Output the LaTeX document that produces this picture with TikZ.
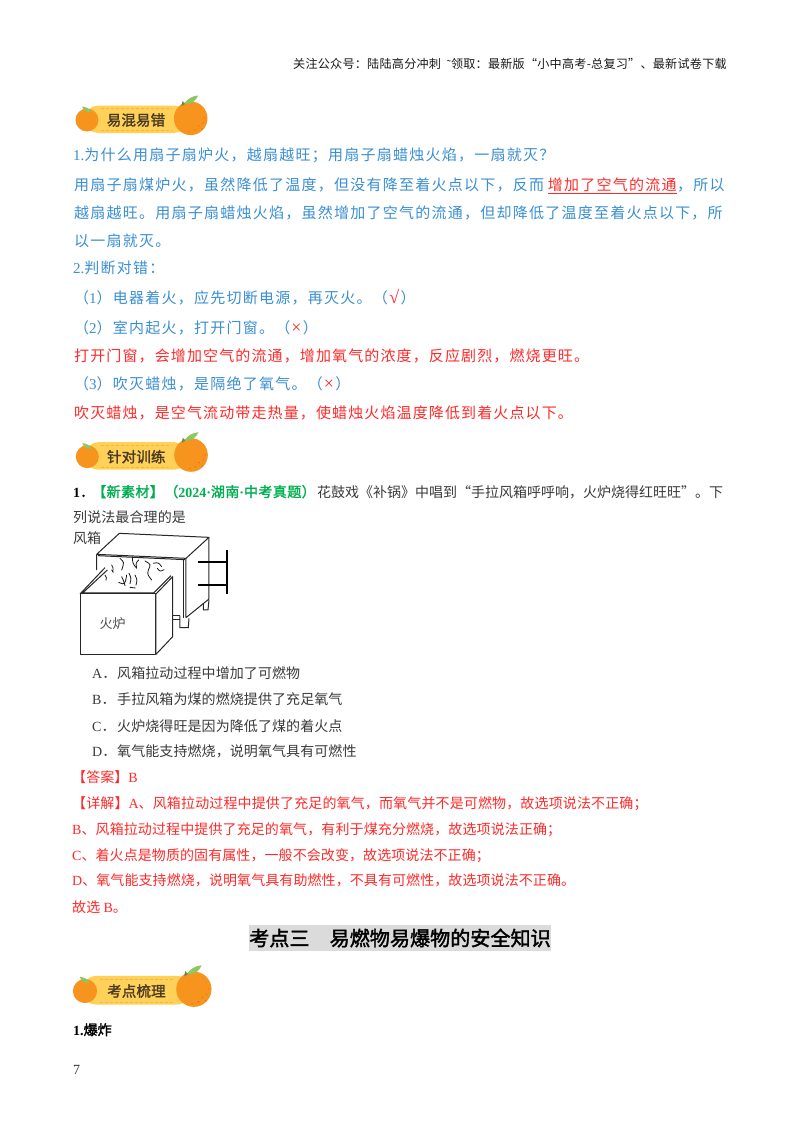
\documentclass[tikz,border=0pt]{standalone}
\usepackage{fontspec}
\setmainfont{Liberation Serif}
\newfontfamily\cjk{Noto Sans CJK SC}
\newfontfamily\cjkb[FakeBold=1.8]{Noto Sans CJK SC}
\newfontfamily\lat{Liberation Serif}
\newfontfamily\latb{Liberation Serif Bold}
\definecolor{tblue}{HTML}{3A8FD2}
\definecolor{tred}{HTML}{FF2A2A}
\definecolor{tgreen}{HTML}{00B050}
\definecolor{tblack}{HTML}{3A3A3A}
\definecolor{pill}{HTML}{FFD159}
\definecolor{pilld}{HTML}{F7B733}
\definecolor{orng}{HTML}{F7941E}
\definecolor{orngd}{HTML}{E8601C}
\definecolor{leaf}{HTML}{8CC665}
\definecolor{btext}{HTML}{4A3B22}
\newcommand\fsz[1]{\fontsize{#1}{#1}\selectfont}
\newcommand\ls[1]{\addfontfeature{LetterSpace=#1}}
% name, x, y, style, letterspace, text
\newcommand\T[6]{\node[tl,#4] (#1) at (#2,#3) {\ls{#5}#6};}
\newcommand\bannerart[5]{%
\begin{scope}[shift={(#2,#3)},scale=#4]
\fill[pill] (-2,-14.5) [rounded corners=13pt] -- (100,-14.5) -- (100,13) -- (-2,13) -- cycle;
\draw[pilld,densely dashed,line width=.5pt] (14,-11.5) -- (85,-11.5) (14,10.5) -- (85,10.5);
\fill[orng] (0,0) circle (11.5);
\fill[leaf] (4.5,-8) .. controls (2,-12) and (-1,-13) .. (-5,-13.5) .. controls (-4,-10) and (0,-7) .. (4.5,-8) -- cycle;
\fill[orng] (103.7,-1.7) circle (16.8);
\fill[leaf] (97,-16) .. controls (100,-21) and (105,-24) .. (111,-24.5) .. controls (110,-20) and (104,-15) .. (97,-16) -- cycle;
\fill[leaf!70!black] (94.5,-14) -- (95.5,-19) -- (98,-16) -- cycle;
\foreach \dx/\dy in {112/6,116/3,108/10,115/9,102/12,118/-2}{\fill[orngd] (\dx,\dy) circle (.6);}
\node[inner sep=0,text=btext,font=\fsz{14.5}\cjkb] (#1) at (49,0) {\ls{1}#5};
\end{scope}}
\begin{document}
\begin{tikzpicture}[x=1pt,y=-1pt,
  tl/.style={anchor=base west,inner sep=0pt},
  blue15/.style={text=tblue,font=\fsz{15}\cjk},
  red15/.style={text=tred,font=\fsz{15}\cjk},
  mark18/.style={text=tred,font=\fsz{18}\lat},
  blk14/.style={text=tblack,font=\fsz{14}\cjk},
  red14/.style={text=tred,font=\fsz{14}\cjk},
  bold14/.style={text=black,font=\fsz{14}\cjkb},
  grn14/.style={text=tgreen,font=\fsz{14}\cjkb},
  fig/.style={line width=1pt,black!85},
  squig/.style={line width=.8pt,black!90,line cap=round}]
\useasboundingbox (0,0) rectangle (800,1132);
\fill[white] (0,0) rectangle (800,1132);

\T{head}{293}{68}{text=black!90,font=\fsz{12.1}\cjk}{2}{关注公众号：陆陆高分冲刺 \ {\lat ˜}领取：最新版“小中高考-总复习”、最新试卷下载}

\bannerart{b1}{87}{120}{1}{易混易错}

\T{l1}{73}{160}{blue15}{8.3}{{\lat 1.}为什么用扇子扇炉火，越扇越旺；用扇子扇蜡烛火焰，一扇就灭？}
\T{l2a}{74}{190}{blue15}{8.3}{用扇子扇煤炉火，虽然降低了温度，但没有降至着火点以下，反而}
\node[tl,red15] (l2b) at ([xshift=3.5pt]l2a.base east) {\ls{8.3}增加了空气的流通};
\node[tl,blue15] (l2c) at (l2b.base east) {\ls{8.3}，所以};
\draw[tred,line width=1pt] ([yshift=-3pt]l2b.base west) -- ([yshift=-3pt]l2b.base east);
\T{l3}{74}{218}{blue15}{8.3}{越扇越旺。用扇子扇蜡烛火焰，虽然增加了空气的流通，但却降低了温度至着火点以下，所}
\T{l4}{74}{246}{blue15}{8.3}{以一扇就灭。}
\T{l5}{73}{273}{blue15}{8.3}{{\lat 2.}判断对错：}
\T{l6a}{74}{303}{blue15}{8.3}{（{\lat 1}）电器着火，应先切断电源，再灭火。（}
\node[tl,mark18] (l6b) at ([xshift=1pt]l6a.base east) {√};
\node[tl,blue15] (l6c) at ([xshift=1pt]l6b.base east) {）};
\T{l7a}{74}{333}{blue15}{8.3}{（{\lat 2}）室内起火，打开门窗。（}
\node[tl,mark18] (l7b) at ([xshift=.5pt]l7a.base east) {×};
\node[tl,blue15] (l7c) at ([xshift=1pt]l7b.base east) {）};
\T{l8}{74}{361}{red15}{7.5}{打开门窗，会增加空气的流通，增加氧气的浓度，反应剧烈，燃烧更旺。}
\T{l9a}{74}{389}{blue15}{8.3}{（{\lat 3}）吹灭蜡烛，是隔绝了氧气。（}
\node[tl,mark18] (l9b) at ([xshift=.5pt]l9a.base east) {×};
\node[tl,blue15] (l9c) at ([xshift=1pt]l9b.base east) {）};
\T{l10}{74}{418}{red15}{7.5}{吹灭蜡烛，是空气流动带走热量，使蜡烛火焰温度降低到着火点以下。}

\bannerart{b2}{87.3}{456.7}{1}{针对训练}

\T{q1a}{73}{497}{bold14}{0}{{\latb 1}．}
\T{q1b}{92}{497}{grn14}{3}{【新素材】（{\latb 2024·}湖南{\latb ·}中考真题）}
\T{q1c}{317}{497}{blk14}{0}{花鼓戏《补锅》中唱到“手拉风箱呼呼响，火炉烧得红旺旺”。下}
\T{q2}{73}{522}{blk14}{0.7}{列说法最合理的是}
\T{fx}{73}{543}{blk14}{0}{风箱}

% figure: coordinates of a 3x view of the drawing
\begin{scope}[shift={(70,525)},x=.3333pt,y=-.3333pt]
% bellows box
\draw[fig,fill=white,line join=round] (148,25) -- (417,37) -- (348,100) -- (80,88) -- cycle;
\draw[fig] (80,88) -- (80,135) (84,92) -- (345,104);
\draw[fig] (348,100) -- (348,278) (417,37) -- (417,222) -- (348,278);
\draw[fig] (341,103) -- (341,278);
% feet
\draw[fig] (308,272) -- (330,272) (308,285) -- (330,285);
\draw[fig] (330,272) -- (330,308) -- (355,308) -- (357,280);
\draw[fig] (400,235) -- (400,255) -- (414,255) -- (417,225);
% handles
\draw[line width=2pt,black] (384,110) -- (470,110) (384,179) -- (470,179);
\draw[line width=2.2pt,black] (471,75) -- (471,207);
% shreds
\draw[squig] (125,120) .. controls (130,128) .. (128,140);
\draw[squig] (150,100) .. controls (163,112) .. (155,135);
\draw[squig] (187,95) .. controls (188,115) .. (200,130);
\draw[squig] (206,105) .. controls (197,115) .. (200,128);
\draw[squig] (225,108) .. controls (243,118) .. (235,135) .. controls (232,148) .. (245,165);
\draw[squig] (250,115) .. controls (265,112) .. (275,125);
\draw[squig] (262,130) .. controls (270,140) .. (282,134);
\draw[squig] (105,150) .. controls (110,158) .. (108,166);
\draw[squig] (146,172) .. controls (165,180) .. (170,150);
\draw[squig] (177,145) .. controls (184,160) .. (180,176);
\draw[squig] (195,150) .. controls (202,165) .. (198,180);
\draw[squig] (180,187) -- (196,189);
\draw[squig] (155,155) .. controls (160,165) .. (165,182);
\draw[squig] (125,135) -- (130,142);
% furnace
\draw[fig,fill=white,line join=round] (30,207) -- (258,207) -- (258,388) -- (30,388) -- cycle;
\draw[fig,fill=white,line join=round] (258,207) -- (308,155) -- (308,335) -- (258,388) -- cycle;
\draw[fig] (30,207) -- (105,128) (38,204) -- (112,135) (36,204) -- (250,204);
\draw[fig] (250,205) -- (303,152);
\node[inner sep=0,text=black!70,font=\fsz{13}\cjk] (fire) at (128,295) {火炉};
\end{scope}

\T{a}{92}{678}{blk14}{0}{{\lat A}．}
\T{at}{117}{678}{blk14}{0.6}{风箱拉动过程中增加了可燃物}
\T{b}{92}{704}{blk14}{0}{{\lat B}．}
\T{bt}{117}{704}{blk14}{0.6}{手拉风箱为煤的燃烧提供了充足氧气}
\T{c}{92}{731}{blk14}{0}{{\lat C}．}
\T{ct}{117}{731}{blk14}{0.6}{火炉烧得旺是因为降低了煤的着火点}
\T{d}{92}{756}{blk14}{0}{{\lat D}．}
\T{dt}{117}{756}{blk14}{0.6}{氧气能支持燃烧，说明氧气具有可燃性}
\T{ans}{72}{782}{red14}{0.6}{【答案】{\lat B}}
\T{e1}{72}{808}{red14}{1}{【详解】{\lat A}、风箱拉动过程中提供了充足的氧气，而氧气并不是可燃物，故选项说法不正确；}
\T{e2}{72}{834}{red14}{0.8}{{\lat B}、风箱拉动过程中提供了充足的氧气，有利于煤充分燃烧，故选项说法正确；}
\T{e3}{72}{860}{red14}{0.6}{{\lat C}、着火点是物质的固有属性，一般不会改变，故选项说法不正确；}
\T{e4}{72}{885}{red14}{0.6}{{\lat D}、氧气能支持燃烧，说明氧气具有助燃性，不具有可燃性，故选项说法不正确。}
\T{e5}{72}{912}{red14}{0.6}{故选 {\lat B}。}

\node[fill=black!14,inner sep=0,minimum width=302,minimum height=26,text=black,font=\fsz{20.1}\cjkb] (title) at (400,938) {考点三　易燃物易爆物的安全知识};

\bannerart{b3}{85}{991}{1.05}{考点梳理}

\T{s1}{73}{1035}{bold14}{0}{{\latb 1.}爆炸}
\T{pg}{73}{1074}{text=tblack,font=\fsz{14}\lat}{0}{7}
\end{tikzpicture}
\end{document}
